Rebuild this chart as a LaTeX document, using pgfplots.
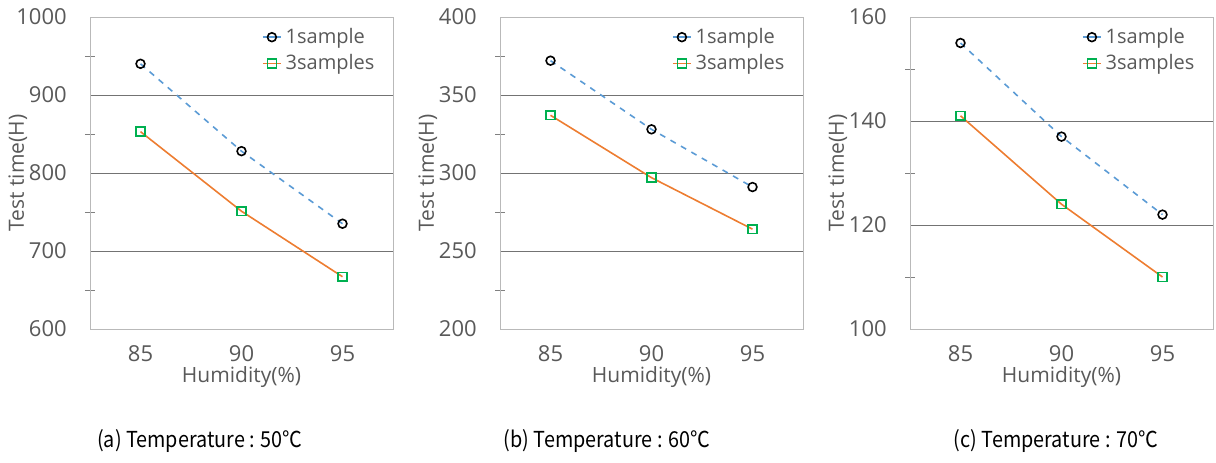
\documentclass[border=0pt]{standalone}
\usepackage{fontspec}
\setmainfont{Open Sans}
\newfontfamily\capfont{Noto Sans CJK KR}
\usepackage{pgfplots}
\pgfplotsset{compat=1.18}
\definecolor{cBlue}{HTML}{5B9BD5}
\definecolor{cOrange}{HTML}{ED7D31}
\definecolor{cGreen}{HTML}{00B050}
\definecolor{cText}{HTML}{595959}

\pgfplotsset{
  panel/.style={
    scale only axis,
    width=151.5pt, height=156pt,
    anchor=south west,
    xmin=82.5, xmax=97.5,
    xtick={85,90,95},
    major x tick style={draw=none},
    ytick pos=left,
    axis line style={gray!55},
    ymajorgrids,
    major grid style={black!55, line width=0.5pt},
    major y tick style={draw=none},
    minor y tick num=1,
    minor tick length=5pt,
    tick align=center,
    minor y tick style={black!50},
    tick label style={font=\fontsize{11}{13}\selectfont, text=cText},
    yticklabel style={xshift=-6pt},
    xticklabel style={yshift=-2.5pt},
    /pgf/number format/assume math mode=true,
    /pgf/number format/1000 sep={},
    xlabel={Humidity(\%)},
    ylabel={Test time(H)},
    label style={font=\fontsize{10.5}{12}\selectfont, text=cText},
    xlabel style={at={(axis description cs:0.5,0)}, anchor=center, yshift=-24pt},
    ylabel style={at={(axis description cs:-0.238,0.5)}, anchor=center},
    legend style={draw=none, fill=none, at={(0.96,0.985)}, anchor=north east,
      font=\fontsize{10}{12}\selectfont, text=cText, row sep=0pt,
      inner sep=1pt},
    legend cell align=left,
    legend image code/.code={
      \draw[#1, solid] (0pt,0pt) -- (9pt,0pt);
      \draw[#1, solid] plot coordinates {(4.5pt,0pt)};
    },
  },
  one/.style={cBlue, dashed, line width=0.8pt,
    mark=o, mark size=2.2pt, mark options={solid, black, fill=white, line width=0.8pt}},
  three/.style={cOrange, line width=0.8pt,
    mark=square, mark size=2.2pt, mark options={solid, cGreen, fill=white, line width=0.8pt}},
}

\begin{document}
\begin{tikzpicture}
\path[use as bounding box] (0,-66.5pt) rectangle (608pt,164.5pt);

\begin{axis}[panel, at={(45pt,0pt)}, ymin=600, ymax=1000, ytick={600,700,800,900,1000}]
  \addplot[one] coordinates {(85,940) (90,828) (95,735)};
  \addplot[three] coordinates {(85,853) (90,751) (95,667)};
  \legend{1sample, 3samples}
\end{axis}

\begin{axis}[panel, at={(250pt,0pt)}, ymin=200, ymax=400, ytick={200,250,300,350,400}]
  \addplot[one] coordinates {(85,372) (90,328) (95,291)};
  \addplot[three] coordinates {(85,337) (90,297) (95,264)};
  \legend{1sample, 3samples}
\end{axis}

\begin{axis}[panel, at={(455pt,0pt)}, ymin=100, ymax=160, ytick={100,120,140,160}]
  \addplot[one] coordinates {(85,155) (90,137) (95,122)};
  \addplot[three] coordinates {(85,141) (90,124) (95,110)};
  \legend{1sample, 3samples}
\end{axis}

\node[font=\capfont\fontsize{11}{13}\selectfont, xscale=0.9] at (100pt,-56pt) {(a) Temperature : 50℃};
\node[font=\capfont\fontsize{11}{13}\selectfont, xscale=0.9] at (303.5pt,-56pt) {(b) Temperature : 60℃};
\node[font=\capfont\fontsize{11}{13}\selectfont, xscale=0.9] at (528pt,-56pt) {(c) Temperature : 70℃};
\end{tikzpicture}
\end{document}
